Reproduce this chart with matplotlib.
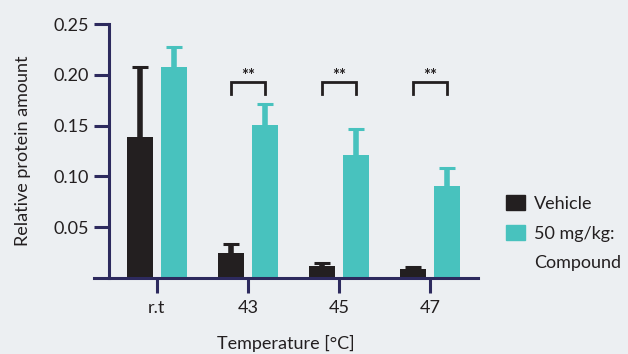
import numpy as np
import matplotlib
matplotlib.use("Agg")
import matplotlib.pyplot as plt
from matplotlib.patches import Patch

categories = ["r.t", "43", "45", "47"]
vehicle = [0.139, 0.0246, 0.0115, 0.0085]
vehicle_err = [0.069, 0.009, 0.0035, 0.0025]
compound = [0.208, 0.151, 0.121, 0.0906]
compound_err = [0.019, 0.020, 0.026, 0.018]
significance = ["", "**", "**", "**"]
series_labels = ["Vehicle", "50 mg/kg:", "Compound"]

bg = "#eceff2"
dark = "#231f20"
teal = "#48c2be"
navy = "#2d2a5e"

plt.rcParams["font.family"] = ["Lato", "DejaVu Sans"]

fig = plt.figure(figsize=(6.28, 3.54), dpi=100, facecolor=bg)
ax = fig.add_axes([0.1497, 0.2147, 0.6115, 0.7175], facecolor=bg)

x = np.arange(len(categories))
w = 0.286
off = 0.187

ax.bar(x - off, vehicle, w, color=dark, zorder=2)
ax.bar(x + off, compound, w, color=teal, zorder=2)
for pos, vals, errs, col in [(x - off, vehicle, vehicle_err, dark),
                             (x + off, compound, compound_err, teal)]:
    eb = ax.errorbar(pos, vals, yerr=[np.zeros(4), errs], fmt="none",
                     ecolor=col, elinewidth=4, capsize=6, capthick=2.2,
                     zorder=1)
    eb[1][0].set_visible(False)  # hide lower caps

# significance brackets
for i, s in enumerate(significance):
    if not s:
        continue
    ax.plot([i - off, i - off, i + off, i + off], [0.181, 0.193, 0.193, 0.181],
            color=dark, lw=2, solid_joinstyle="miter", clip_on=False)
    ax.text(i, 0.199, s, ha="center", va="center", fontsize=12,
            fontweight="bold", color=dark)

ax.set_xlim(-0.69, 3.53)
ax.set_ylim(0, 0.25)
ax.spines["left"].set_position(("data", -0.527))
for side in ["top", "right"]:
    ax.spines[side].set_visible(False)
for side in ["left", "bottom"]:
    ax.spines[side].set_color(navy)
    ax.spines[side].set_linewidth(2.2)

ax.set_xticks(x)
ax.set_xticklabels(categories)
ax.set_yticks([0.05, 0.10, 0.15, 0.20, 0.25])
ax.set_yticklabels(["0.05", "0.10", "0.15", "0.20", "0.25"])
ax.tick_params(axis="both", direction="out", length=10.5, width=2.2,
               color=navy, labelsize=13, labelcolor=dark)
ax.tick_params(axis="x", pad=5)
ax.tick_params(axis="y", pad=4)

ax.set_ylabel("Relative protein amount", fontsize=13, color=dark, labelpad=16)
ax.set_xlabel("Temperature [°C]", fontsize=13, color=dark, labelpad=14)

# legend: second label wraps onto a third line with no swatch
handles = [Patch(color=dark), Patch(color=teal), Patch(color="none")]
leg = ax.legend(handles, series_labels, loc="upper left",
                bbox_to_anchor=(1.03, 0.39), frameon=False,
                fontsize=13, handlelength=1.05, handleheight=0.9,
                handletextpad=0.5, labelspacing=0.72)
for t in leg.get_texts():
    t.set_color(dark)

fig.savefig("out.png", dpi=100, facecolor=bg)
